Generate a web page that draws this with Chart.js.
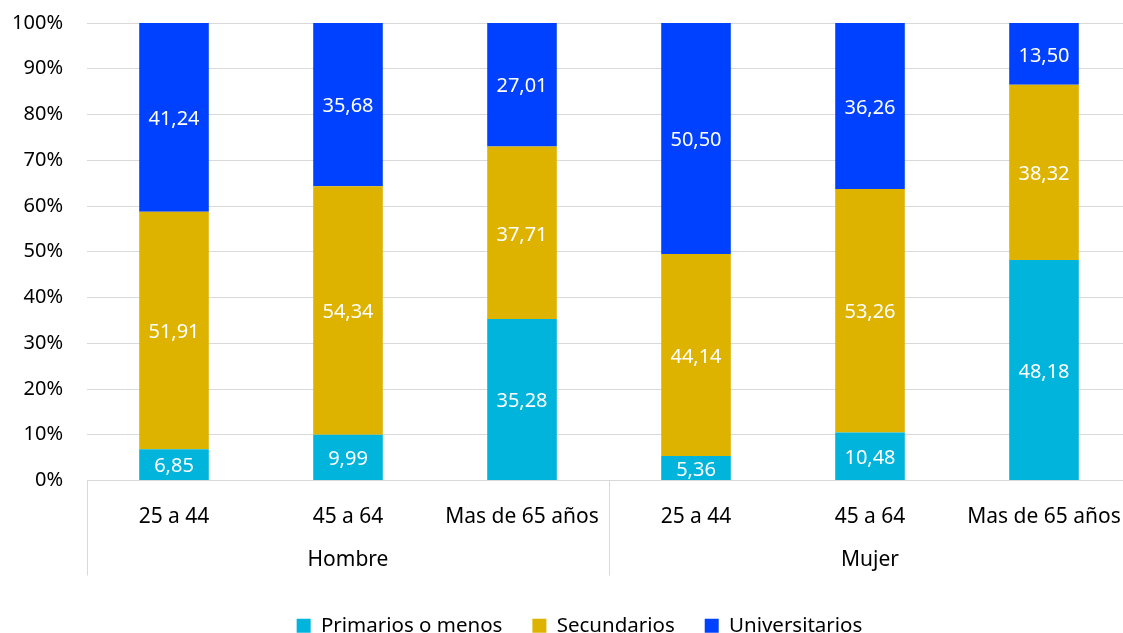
<!DOCTYPE html>
<html>
<head>
<meta charset="utf-8">
<script src="https://cdn.jsdelivr.net/npm/chart.js@4"></script>
<style>
  body { margin: 0; background: #fff; overflow: hidden; }
  #wrap { width: 1158px; height: 633px; }
</style>
</head>
<body>
<div id="wrap"><canvas id="graph"></canvas></div>
<script>
var categories = ["25 a 44", "45 a 64", "Mas de 65 años", "25 a 44", "45 a 64", "Mas de 65 años"];
var groups = ["Hombre", "Mujer"];
var primarios = [6.85, 9.99, 35.28, 5.36, 10.48, 48.18];
var secundarios = [51.91, 54.34, 37.71, 44.14, 53.26, 38.32];
var universitarios = [41.24, 35.68, 27.01, 50.5, 36.26, 13.5];

var FONT = "'Noto Sans', 'Open Sans', sans-serif";

// value labels in the middle of each segment
var barLabels = {
  id: "barLabels",
  afterDatasetsDraw: function (chart) {
    var ctx = chart.ctx;
    ctx.save();
    ctx.font = "20px " + FONT;
    ctx.fillStyle = "#ffffff";
    ctx.textAlign = "center";
    ctx.textBaseline = "middle";
    chart.data.datasets.forEach(function (ds, i) {
      chart.getDatasetMeta(i).data.forEach(function (bar, j) {
        var y = (bar.y + bar.base) / 2;
        ctx.fillText(ds.data[j].toFixed(2).replace(".", ","), bar.x, y + 2);
      });
    });
    ctx.restore();
  },
};

// second row of x labels (gender) and the separators
var groupAxis = {
  id: "groupAxis",
  afterLayout: function (chart) {
    // nudge the legend a bit to the right, like the original
    if (chart.legend) {
      chart.legend.left += 14;
      chart.legend.right += 14;
    }
  },
  afterDraw: function (chart) {
    var ctx = chart.ctx;
    var x = chart.scales.x;
    var area = chart.chartArea;
    var step = x.getPixelForValue(1) - x.getPixelForValue(0);
    ctx.save();
    ctx.strokeStyle = "#d9d9d9";
    ctx.lineWidth = 1;
    [0, 3, 6].forEach(function (k) {
      var px = Math.round(x.getPixelForValue(0) - step / 2 + k * step) + 0.5;
      ctx.beginPath();
      ctx.moveTo(px, area.bottom);
      ctx.lineTo(px, area.bottom + 95);
      ctx.stroke();
    });
    ctx.font = "21px " + FONT;
    ctx.fillStyle = "#000000";
    ctx.textAlign = "center";
    ctx.textBaseline = "middle";
    groups.forEach(function (g, i) {
      var cx = x.getPixelForValue(i * 3 + 1);
      ctx.fillText(g, cx, area.bottom + 80);
    });
    ctx.restore();
  },
};

var ctx = document.getElementById("graph").getContext("2d");
var myChart = new Chart(ctx, {
  type: "bar",
  data: {
    labels: categories,
    datasets: [
      { label: "Primarios o menos", data: primarios, backgroundColor: "#00b4dc" },
      { label: "Secundarios", data: secundarios, backgroundColor: "#ddb300" },
      { label: "Universitarios", data: universitarios, backgroundColor: "#0041ff" },
    ],
  },
  options: {
    responsive: true,
    maintainAspectRatio: false,
    animation: false,
    layout: { padding: { top: 23, right: 27, left: 0, bottom: -13 } },
    datasets: {
      bar: { barPercentage: 0.4, categoryPercentage: 1 },
    },
    scales: {
      x: {
        stacked: true,
        grid: { display: false, drawTicks: false },
        border: { color: "#d9d9d9" },
        ticks: { color: "#000", font: { family: FONT, size: 21 }, padding: 24, maxRotation: 0, autoSkip: false },
        afterFit: function (scale) {
          scale.height = 105;
          scale.paddingLeft = 0;
          scale.paddingRight = 0;
        },
      },
      y: {
        stacked: true,
        min: 0,
        max: 100,
        grid: { color: "#d9d9d9", drawTicks: false },
        border: { display: false },
        ticks: {
          stepSize: 10,
          color: "#000",
          padding: 24,
          font: { family: FONT, size: 20 },
          callback: function (v) { return v + "%"; },
        },
        afterFit: function (scale) {
          scale.width = 87;
          scale.paddingTop = 0;
          scale.paddingBottom = 0;
        },
      },
    },
    plugins: {
      legend: {
        position: "bottom",
        labels: {
          color: "#000",
          font: { family: FONT, size: 20.5 },
          boxWidth: 14,
          boxHeight: 14,
          padding: 30,
        },
      },
      tooltip: { enabled: false },
    },
  },
  plugins: [barLabels, groupAxis],
});
</script>
</body>
</html>
